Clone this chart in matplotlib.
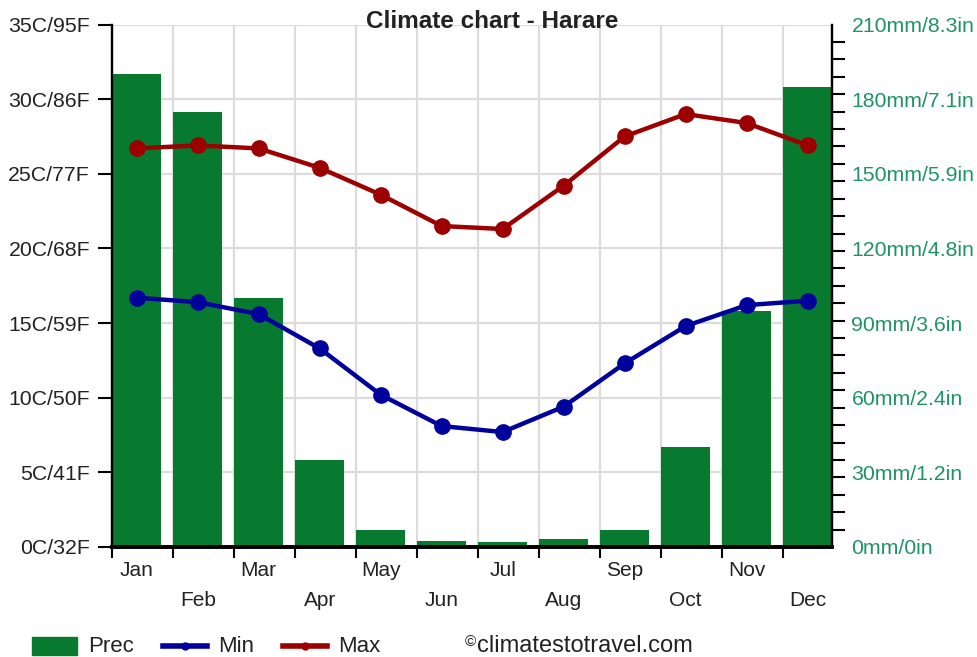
"""Climate chart for Harare: monthly precipitation bars with min/max temperature lines."""
import matplotlib
matplotlib.use("Agg")
import matplotlib.pyplot as plt
from matplotlib.lines import Line2D
from matplotlib.patches import Rectangle

plt.rcParams["font.family"] = ["Liberation Sans", "DejaVu Sans"]

MONTHS = ["Jan", "Feb", "Mar", "Apr", "May", "Jun",
          "Jul", "Aug", "Sep", "Oct", "Nov", "Dec"]
PREC_MM = [190, 175, 100, 35, 7, 2.4, 2, 3.2, 7, 40, 95, 185]
T_MIN = [16.7, 16.4, 15.6, 13.3, 10.2, 8.1, 7.7, 9.4, 12.3, 14.8, 16.2, 16.5]
T_MAX = [26.7, 26.9, 26.7, 25.4, 23.6, 21.5, 21.3, 24.2, 27.5, 29.0, 28.4, 26.9]

TEMP_TICKS = [0, 5, 10, 15, 20, 25, 30, 35]
TEMP_LABELS = ["0C/32F", "5C/41F", "10C/50F", "15C/59F",
               "20C/68F", "25C/77F", "30C/86F", "35C/95F"]
PREC_TICKS = [0, 30, 60, 90, 120, 150, 180, 210]
PREC_LABELS = ["0mm/0in", "30mm/1.2in", "60mm/2.4in", "90mm/3.6in",
               "120mm/4.8in", "150mm/5.9in", "180mm/7.1in", "210mm/8.3in"]

GREEN = "#077a30"
BLUE = "#00009c"
RED = "#9c0000"
GRID = "#dcdcdc"
TXT = "#222222"
RTXT = "#1e9466"

W, H = 978, 657
fig = plt.figure(figsize=(W / 100, H / 100), dpi=100)
ax_p = fig.add_axes([112.3 / W, 1 - 547 / H, (832 - 112.3) / W, (547 - 24.5) / H])
ax_t = ax_p.twinx()
ax_t.set_zorder(ax_p.get_zorder() + 1)
ax_t.patch.set_visible(False)

n = len(MONTHS)
bar_w = 0.8
slots = list(range(n))
centers = [i + bar_w / 2 for i in slots]

# grid behind the bars
for i in slots[1:]:
    ax_p.axvline(i, color=GRID, lw=1.6, zorder=0)
for v in PREC_TICKS[1:]:
    ax_p.axhline(v, color=GRID, lw=1.6, zorder=0)

ax_p.bar(slots, PREC_MM, width=bar_w, align="edge", color=GREEN, zorder=2)
ax_p.set_xlim(0, 11.8)
ax_p.set_ylim(0, 210)

ax_t.plot(centers, T_MIN, color=BLUE, lw=3.2, marker="o", ms=11, zorder=3)
ax_t.plot(centers, T_MAX, color=RED, lw=3.2, marker="o", ms=11, zorder=3)
ax_t.set_ylim(0, 35)

# temperature axis on the left
ax_t.yaxis.tick_left()
ax_t.set_yticks(TEMP_TICKS)
ax_t.set_yticklabels(TEMP_LABELS)
ax_t.tick_params(axis="y", which="major", left=True, right=False, length=10,
                 width=1.5, direction="out", labelsize=15.3, labelcolor=TXT, pad=6)

# precipitation axis on the right: labels every 30 mm, small ticks every 7 mm
ax_p.yaxis.tick_right()
ax_p.set_yticks(PREC_TICKS)
ax_p.set_yticklabels(PREC_LABELS)
ax_p.set_yticks(list(range(0, 211, 7)), minor=True)
ax_p.tick_params(axis="y", which="major", length=0, labelsize=15.3,
                 labelcolor=RTXT, pad=14)
ax_p.tick_params(axis="y", which="minor", length=9, width=1.5, direction="out")

ax_p.set_xticks(slots)
ax_p.set_xticklabels([])
ax_p.tick_params(axis="x", which="major", length=8, width=1.5, direction="out")
ax_t.tick_params(axis="x", bottom=False, labelbottom=False)

for i, m in enumerate(MONTHS):
    ax_p.text(centers[i], -0.045 if i % 2 == 0 else -0.103, m,
              transform=ax_p.get_xaxis_transform(), ha="center", va="center",
              fontsize=15, color=TXT)

for a in (ax_p, ax_t):
    a.spines["top"].set_visible(False)
    a.spines["left"].set_linewidth(1.6)
    a.spines["right"].set_linewidth(1.6)
    a.spines["bottom"].set_linewidth(2.6)

fig.text(492 / W, 1 - 22 / H, "Climate chart - Harare", ha="center", va="center",
         fontsize=17.5, fontweight="bold", color=TXT)

# legend row
ly = 1 - 646 / H
fig.add_artist(Rectangle((32 / W, 1 - 655 / H), 45 / W, 18 / H,
                         transform=fig.transFigure, color=GREEN))
fig.text(88 / W, ly, "Prec", fontsize=16, va="center", color=TXT)
for x0, col, lab in ((163, BLUE, "Min"), (283, RED, "Max")):
    fig.add_artist(Line2D([x0 / W, (x0 + 44) / W], [ly, ly], transform=fig.transFigure,
                          color=col, lw=4))
    fig.add_artist(Line2D([(x0 + 22) / W], [ly], transform=fig.transFigure,
                          color=col, marker="o", ms=5))
    fig.text((x0 + 55) / W, ly, lab, fontsize=16, va="center", color=TXT)
fig.text(465 / W, 1 - 642 / H, "©", fontsize=11, va="center", color=TXT)
fig.text(477 / W, ly, "climatestotravel.com", fontsize=17, va="center", color=TXT)

fig.savefig("out.png", dpi=100)
